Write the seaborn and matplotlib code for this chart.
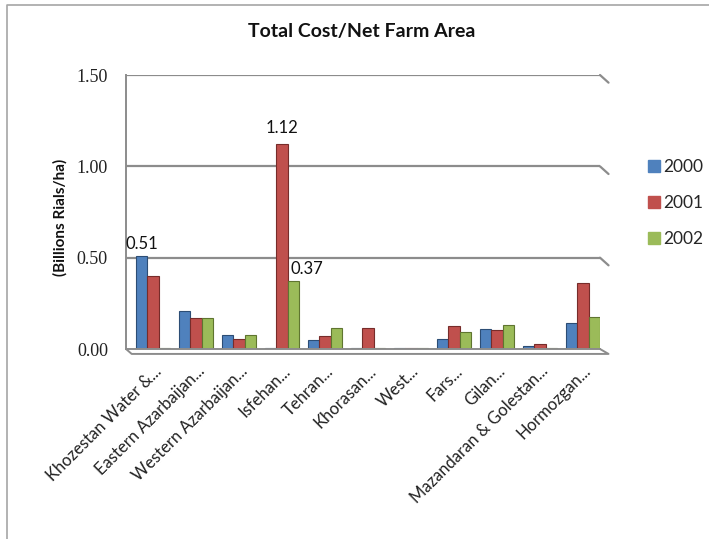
import matplotlib
matplotlib.use("Agg")
import matplotlib.pyplot as plt
import seaborn as sns
import pandas as pd
from matplotlib.lines import Line2D

regions = ["Khozestan Water &...", "Eastern Azarbaijan...", "Western Azarbaijan...",
           "Isfehan...", "Tehran...", "Khorasan...", "West...", "Fars...", "Gilan...",
           "Mazandaran & Golestan...", "Hormozgan..."]
years = ["2000", "2001", "2002"]
cost_2000 = [0.51, 0.21, 0.075, 0.0, 0.05, 0.0, 0.0, 0.055, 0.11, 0.015, 0.14]
cost_2001 = [0.40, 0.17, 0.055, 1.12, 0.07, 0.115, 0.0, 0.125, 0.105, 0.03, 0.36]
cost_2002 = [0.0, 0.17, 0.075, 0.37, 0.115, 0.0, 0.0, 0.095, 0.13, 0.0, 0.175]
yticks = [0.0, 0.5, 1.0, 1.5]

df = pd.DataFrame({
    "region": regions * 3,
    "year": [y for y in years for _ in regions],
    "value": cost_2000 + cost_2001 + cost_2002,
})

sns.set_theme(style="white")
plt.rcParams["font.family"] = ["Lato", "DejaVu Sans"]

palette = ["#4F81BD", "#C0504D", "#9BBB59"]
edges = ["#2C4D75", "#772C2A", "#5F7530"]

W, H = 709, 539
fig = plt.figure(figsize=(W / 100, H / 100), dpi=100)
ax = fig.add_axes([126 / W, 1 - 349 / H, (600 - 126) / W, (349 - 75) / H])

sns.barplot(data=df, x="region", y="value", hue="year", palette=palette,
            width=0.8, ax=ax, saturation=1, legend=True)

for cont, ec in zip(ax.containers, edges):
    for p in cont:
        p.set_edgecolor(ec)
        p.set_linewidth(0.8)
        if p.get_height() == 0:
            p.set_height(0.004)

ax.set_ylim(0, 1.5)
ax.set_xlim(-0.63, 10.4)
ax.set_yticks(yticks)
ax.set_yticklabels([f"{v:.2f}" for v in yticks], family="Liberation Serif",
                   fontsize=13, color="#222222")
ax.tick_params(axis="y", length=0, pad=13)
ax.tick_params(axis="x", length=0, pad=10)
ax.set_xticks(range(len(regions)))
ax.set_xticklabels(regions, rotation=45, ha="right", rotation_mode="anchor",
                   fontsize=12, color="#222222")
ax.set_xlabel("")
ax.set_ylabel("(Billions Rials/ha)", fontsize=11, fontweight="bold",
              color="#111111")
ax.yaxis.set_label_coords(-0.124, 0.48)

grid_c = "#8C8C8C"
for v in yticks[1:]:
    ax.axhline(v, color=grid_c, lw=1.6, zorder=0)
    ax.plot([1.0, 1.018], [v / 1.5, v / 1.5 - 0.028], transform=ax.transAxes,
            color=grid_c, lw=1.6, clip_on=False)
for s in ["top", "right"]:
    ax.spines[s].set_visible(False)
ax.spines["left"].set_color(grid_c)
ax.spines["left"].set_linewidth(1.4)
ax.spines["bottom"].set_color(grid_c)
ax.spines["bottom"].set_linewidth(1.4)
ax.plot([0.0, 0.012, 1.018, 1.0], [0.0, -0.018, -0.018, 0.0], transform=ax.transAxes,
        color=grid_c, lw=1.4, clip_on=False)

# value labels on the three highlighted bars
b2000, b2001, b2002 = ax.containers[0], ax.containers[1], ax.containers[2]
def label(patch, text, dx, dy, ha):
    x = patch.get_x() + patch.get_width() / 2
    ax.annotate(text, (x, patch.get_height()), xytext=(dx, dy),
                textcoords="offset points", ha=ha, va="bottom",
                fontsize=12, color="#111111")
label(b2000[0], f"{cost_2000[0]:.2f}", 0, 3, "center")
label(b2001[3], f"{cost_2001[3]:.2f}", 0, 6, "center")
label(b2002[3], f"{cost_2002[3]:.2f}", -2, 3, "left")

ax.get_legend().remove()
handles = [Line2D([], [], marker="s", ls="", markersize=8.5, color=c) for c in palette]
fig.legend(handles, years, loc="center left", bbox_to_anchor=(631 / W, 1 - 203 / H),
           frameon=False, fontsize=12.5, handletextpad=0.15, labelspacing=1.15,
           handlelength=0.8)

fig.suptitle("Total Cost/Net Farm Area", x=362 / W, y=1 - 32 / H, va="center",
             fontsize=14, fontweight="bold", color="#111111")

# chart frame, cut by the image edge on the right and bottom
fig.add_artist(Line2D([7 / W, 7 / W, 1.0], [0.0, 1 - 5 / H, 1 - 5 / H],
                      transform=fig.transFigure, color="#A6A6A6", lw=1.2))

fig.savefig("out.png", dpi=100)
